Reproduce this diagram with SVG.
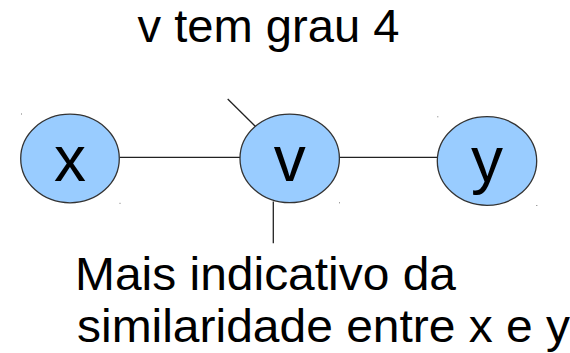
<svg xmlns="http://www.w3.org/2000/svg" width="570" height="353" viewBox="0 0 570 353">
<style>
.node{fill:#99ccff;stroke:#333;stroke-width:1.3}
.lbl{font-family:"Liberation Sans",Arial,sans-serif;font-size:64px;fill:#000;text-anchor:middle}
.edge{stroke:#222;stroke-width:1.3;fill:none}
.txt{font-family:"Liberation Sans",Arial,sans-serif;font-size:47px;fill:#000}
.dot{fill:#777}
</style>
<rect width="570" height="353" fill="#fff"/>
<g id="connectors">
<line class="edge" x1="119.5" y1="157.3" x2="240" y2="157.3"/>
<line class="edge" x1="339.3" y1="157.3" x2="437.3" y2="157.3"/>
<line class="edge" x1="227.7" y1="99" x2="255.5" y2="126.5"/>
<line class="edge" x1="273.3" y1="201.5" x2="273.3" y2="243.3"/>
</g>
<g id="node-x">
<ellipse class="node" cx="70" cy="158.5" rx="49.3" ry="44.3"/>
<text class="lbl" x="70" y="181">x</text>
</g>
<g id="node-v">
<ellipse class="node" cx="289.7" cy="158.4" rx="49.7" ry="44.3"/>
<text class="lbl" x="289.7" y="181">v</text>
</g>
<g id="node-y">
<ellipse class="node" cx="487" cy="161" rx="49.7" ry="44.3"/>
<text class="lbl" x="487" y="181.5">y</text>
</g>
<g id="marks">
<rect class="dot" x="21" y="113.5" width="1" height="1"/>
<rect class="dot" x="119.5" y="202.8" width="1" height="1"/>
<rect class="dot" x="339" y="202.3" width="1" height="1"/>
<rect class="dot" x="437.3" y="116.3" width="1" height="1"/>
<rect class="dot" x="536.3" y="205" width="1" height="1"/>
</g>
<g id="labels">
<text class="txt" x="137.5" y="42" textLength="262" lengthAdjust="spacingAndGlyphs">v tem grau 4</text>
<text class="txt" x="75" y="290" textLength="381" lengthAdjust="spacingAndGlyphs">Mais indicativo da</text>
<text class="txt" x="77" y="342" textLength="493" lengthAdjust="spacingAndGlyphs">similaridade entre x e y</text>
</g>
</svg>
